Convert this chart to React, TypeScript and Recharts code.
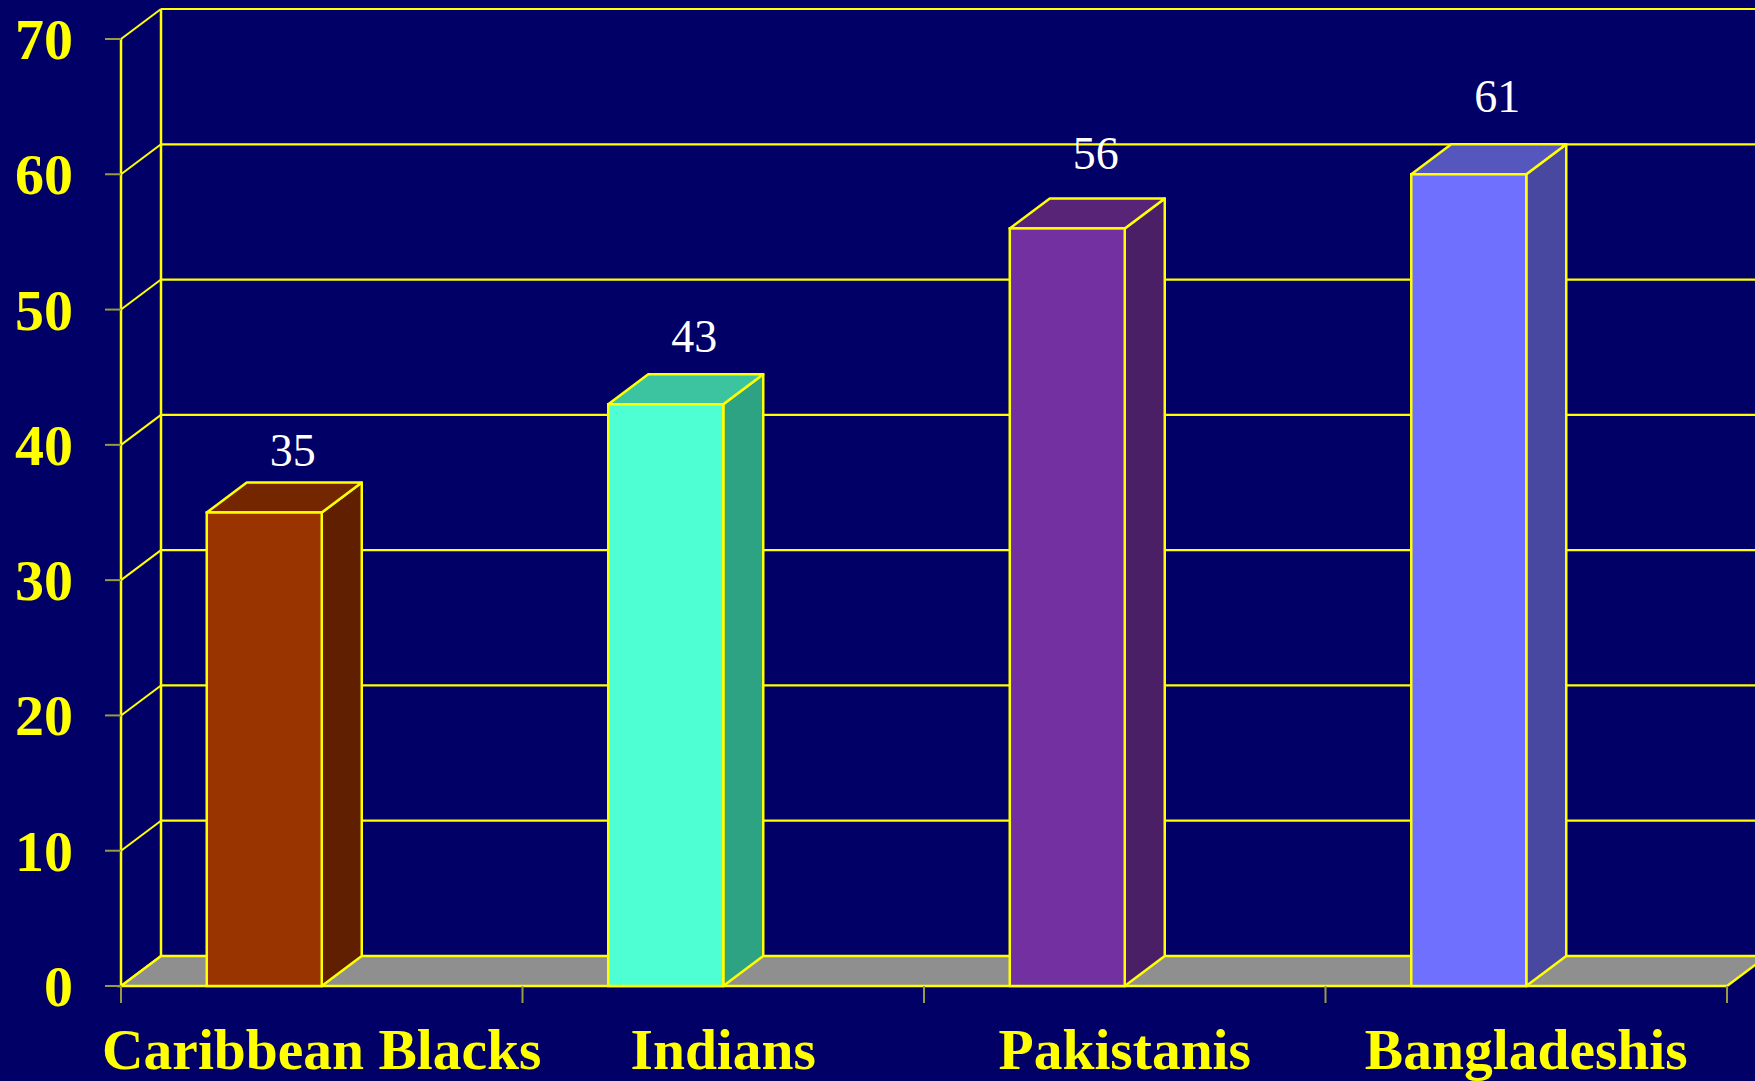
import React from "react";
import { BarChart, Bar, XAxis, YAxis, LabelList, CartesianGrid } from "recharts";

const categories = ["Caribbean Blacks", "Indians", "Pakistanis", "Bangladeshis"];
const barValues = [35, 43, 56, 60];
const valueLabels = ["35", "43", "56", "61"];
const yTicks = [0, 10, 20, 30, 40, 50, 60, 70];

const frontColors = ["#993300", "#4dffd2", "#7330a0", "#7070ff"];
const topColors = ["#732600", "#3cc4a0", "#572478", "#5656bf"];
const sideColors = ["#5f1f00", "#2ea384", "#4a1f66", "#4848a0"];

const data = categories.map((c, i) => ({ name: c, value: barValues[i], label: valueLabels[i] }));

const W = 1755;
const H = 1081;
const PLOT_LEFT = 121;
const PLOT_RIGHT = 1727;
const PLOT_TOP = 39;
const X_AXIS_H = 95;
const PLOT_BOTTOM = H - X_AXIS_H;
const DX = 40;
const DY = -30;
const HALF_BAND = (PLOT_RIGHT - PLOT_LEFT) / categories.length / 2;
const BAR_W = 115;
const BAR_SHIFT = -57.25;
const YELLOW = "#ffff00";
const TICK_COLOR = "#9a9a40";
const SERIF = "'Times New Roman', 'Liberation Serif', serif";

const GridLine = (props: any) => {
  const y = props.y1;
  const bx = PLOT_LEFT + DX;
  const by = y + DY;
  const isFloor = Math.abs(y - PLOT_BOTTOM) < 1;
  return (
    <g>
      {isFloor && (
        <g>
          <polygon
            points={`${PLOT_LEFT},${y} ${PLOT_RIGHT},${y} ${PLOT_RIGHT + DX},${by} ${bx},${by}`}
            fill="#8f8f8f"
            stroke={YELLOW}
            strokeWidth={2.5}
          />
          <line x1={bx} y1={by} x2={bx} y2={PLOT_TOP + DY} stroke={YELLOW} strokeWidth={2.5} />
        </g>
      )}
      <line x1={PLOT_LEFT} y1={y} x2={bx} y2={by} stroke={YELLOW} strokeWidth={2} />
      {!isFloor && <line x1={bx} y1={by} x2={W} y2={by} stroke={YELLOW} strokeWidth={2.2} />}
    </g>
  );
};

const YTick = (props: any) => {
  const { y, payload } = props;
  return (
    <g>
      <line x1={PLOT_LEFT - 16} y1={y} x2={PLOT_LEFT} y2={y} stroke={TICK_COLOR} strokeWidth={2} />
      <text
        x={73}
        y={y + 20}
        textAnchor="end"
        fill={YELLOW}
        fontFamily={SERIF}
        fontWeight="bold"
        fontSize={58}
      >
        {payload.value}
      </text>
    </g>
  );
};

const XTick = (props: any) => {
  const { x, payload, index } = props;
  const last = index === categories.length - 1;
  return (
    <g>
      <line x1={x - HALF_BAND} y1={PLOT_BOTTOM} x2={x - HALF_BAND} y2={PLOT_BOTTOM + 17} stroke={TICK_COLOR} strokeWidth={2} />
      {last && (
        <line x1={x + HALF_BAND} y1={PLOT_BOTTOM} x2={x + HALF_BAND} y2={PLOT_BOTTOM + 17} stroke={TICK_COLOR} strokeWidth={2} />
      )}
      <text
        x={x}
        y={PLOT_BOTTOM + 83}
        textAnchor="middle"
        fill={YELLOW}
        fontFamily={SERIF}
        fontWeight="bold"
        fontSize={57.5}
      >
        {payload.value}
      </text>
    </g>
  );
};

const Bar3D = (props: any) => {
  const { x, y, width, height, index } = props;
  const fl = x + BAR_SHIFT;
  const fr = fl + width;
  const bottom = y + height;
  return (
    <g>
      <polygon
        points={`${fr},${y} ${fr + DX},${y + DY} ${fr + DX},${bottom + DY} ${fr},${bottom}`}
        fill={sideColors[index]}
        stroke={YELLOW}
        strokeWidth={2.5}
        strokeLinejoin="round"
      />
      <polygon
        points={`${fl},${y} ${fr},${y} ${fr + DX},${y + DY} ${fl + DX},${y + DY}`}
        fill={topColors[index]}
        stroke={YELLOW}
        strokeWidth={2.5}
        strokeLinejoin="round"
      />
      <rect x={fl} y={y} width={width} height={height} fill={frontColors[index]} stroke={YELLOW} strokeWidth={2.5} />
    </g>
  );
};

const ValueLabel = (props: any) => {
  const { x, y, index } = props;
  const v = barValues[index];
  const cy = y - (42 + 0.6 * v);
  return (
    <text
      x={x + BAR_SHIFT + 86}
      y={cy + 16}
      textAnchor="middle"
      fill="#ffffff"
      fontFamily={SERIF}
      fontSize={46}
    >
      {valueLabels[index]}
    </text>
  );
};

export default function App() {
  return (
    <div style={{ position: "absolute", left: 0, top: 0, width: W, height: H, background: "#000066" }}>
      <BarChart width={W} height={H} data={data} margin={{ top: PLOT_TOP, right: W - PLOT_RIGHT, left: 0, bottom: 0 }}>
        <CartesianGrid vertical={false} horizontal={(p: any) => <GridLine key={`g-${p.index}-${p.y1}`} {...p} />} />
        <YAxis
          type="number"
          domain={[0, 70]}
          ticks={yTicks}
          interval={0}
          width={PLOT_LEFT}
          axisLine={{ stroke: YELLOW, strokeWidth: 2.5 }}
          tickLine={false}
          tick={<YTick />}
        />
        <XAxis
          dataKey="name"
          height={X_AXIS_H}
          axisLine={false}
          tickLine={false}
          interval={0}
          tick={<XTick />}
        />
        <Bar dataKey="value" barSize={BAR_W} shape={<Bar3D />} isAnimationActive={false}>
          <LabelList dataKey="value" content={<ValueLabel />} />
        </Bar>
      </BarChart>
    </div>
  );
}
